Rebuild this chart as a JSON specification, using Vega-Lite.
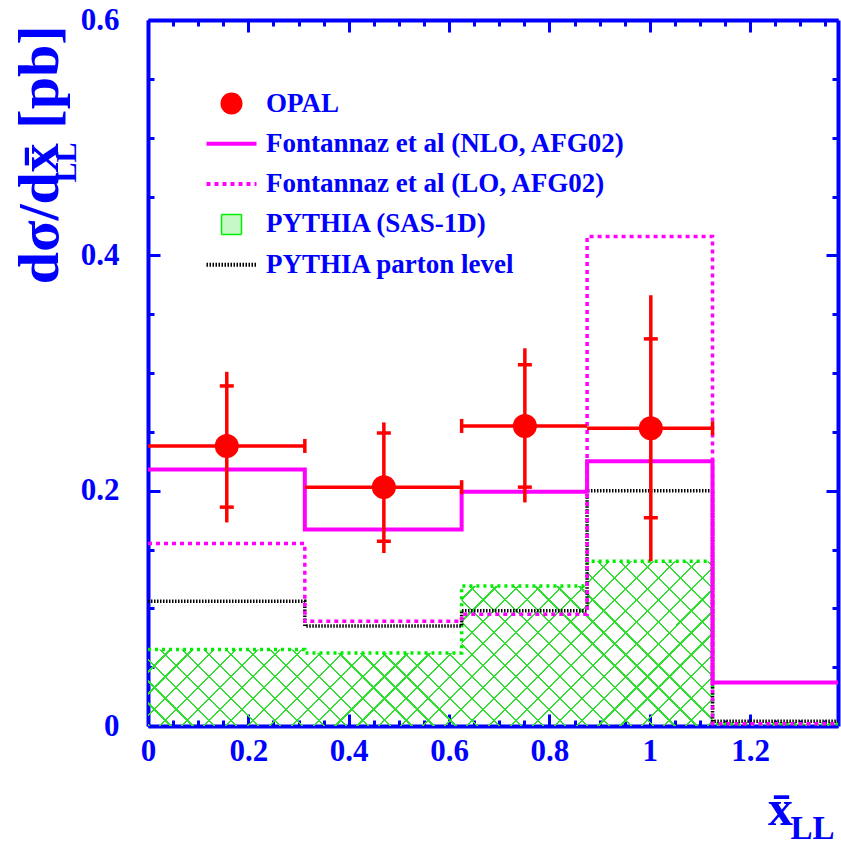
{
  "$schema": "https://vega.github.io/schema/vega-lite/v6.json",
  "width": 690,
  "height": 706,
  "autosize": {"type": "none"},
  "padding": {"left": 148, "top": 20, "right": 3, "bottom": 121},
  "background": "white",
  "config": {"view": {"stroke": null}},
  "datasets": {
    "hist": [
      {"series": "Fontannaz et al (NLO, AFG02)", "x": 0, "y": 0.218},
      {"series": "Fontannaz et al (NLO, AFG02)", "x": 0.3125, "y": 0.167},
      {"series": "Fontannaz et al (NLO, AFG02)", "x": 0.625, "y": 0.199},
      {"series": "Fontannaz et al (NLO, AFG02)", "x": 0.875, "y": 0.225},
      {"series": "Fontannaz et al (NLO, AFG02)", "x": 1.125, "y": 0.037},
      {"series": "Fontannaz et al (NLO, AFG02)", "x": 1.375, "y": 0.037},
      {"series": "Fontannaz et al (LO, AFG02)", "x": 0, "y": 0.155},
      {"series": "Fontannaz et al (LO, AFG02)", "x": 0.3125, "y": 0.089},
      {"series": "Fontannaz et al (LO, AFG02)", "x": 0.625, "y": 0.095},
      {"series": "Fontannaz et al (LO, AFG02)", "x": 0.875, "y": 0.416},
      {"series": "Fontannaz et al (LO, AFG02)", "x": 1.125, "y": 0.002},
      {"series": "Fontannaz et al (LO, AFG02)", "x": 1.375, "y": 0.002},
      {"series": "PYTHIA (SAS-1D)", "x": 0, "y": 0.065},
      {"series": "PYTHIA (SAS-1D)", "x": 0.3125, "y": 0.062},
      {"series": "PYTHIA (SAS-1D)", "x": 0.625, "y": 0.119},
      {"series": "PYTHIA (SAS-1D)", "x": 0.875, "y": 0.14},
      {"series": "PYTHIA (SAS-1D)", "x": 1.125, "y": 0.002},
      {"series": "PYTHIA (SAS-1D)", "x": 1.375, "y": 0.002},
      {"series": "PYTHIA parton level", "x": 0, "y": 0.106},
      {"series": "PYTHIA parton level", "x": 0.3125, "y": 0.085},
      {"series": "PYTHIA parton level", "x": 0.625, "y": 0.098},
      {"series": "PYTHIA parton level", "x": 0.875, "y": 0.2},
      {"series": "PYTHIA parton level", "x": 1.125, "y": 0.004},
      {"series": "PYTHIA parton level", "x": 1.375, "y": 0.004}
    ],
    "opal": [
      {"series": "OPAL", "x": 0.157, "y": 0.238, "xlo": 0, "xhi": 0.3125, "capx": 0.3125, "in_lo": 0.186, "in_hi": 0.289, "out_lo": 0.173, "out_hi": 0.301},
      {"series": "OPAL", "x": 0.47, "y": 0.203, "xlo": 0.3125, "xhi": 0.625, "capx": 0.625, "in_lo": 0.157, "in_hi": 0.249, "out_lo": 0.147, "out_hi": 0.258},
      {"series": "OPAL", "x": 0.751, "y": 0.255, "xlo": 0.625, "xhi": 0.875, "capx": 0.625, "in_lo": 0.203, "in_hi": 0.307, "out_lo": 0.19, "out_hi": 0.321},
      {"series": "OPAL", "x": 1.002, "y": 0.253, "xlo": 0.875, "xhi": 1.125, "capx": 1.125, "in_lo": 0.177, "in_hi": 0.329, "out_lo": 0.14, "out_hi": 0.366}
    ]
  },
  "layer": [
    {
      "data": {"name": "hist"},
      "transform": [{"filter": "datum.series === 'PYTHIA (SAS-1D)'"}],
      "mark": {"type": "area", "interpolate": "step-after", "clip": true,
        "fill": {"gradient": "linear", "x1": 0, "y1": 1, "x2": 1.17193, "y2": 0.72026, "stops": [
          {"offset": 0, "color": "transparent"}, {"offset": 0, "color": "#33dd33"}, {"offset": 0.0026, "color": "#33dd33"}, {"offset": 0.0026, "color": "transparent"},
          {"offset": 0.02564, "color": "transparent"}, {"offset": 0.02564, "color": "#33dd33"}, {"offset": 0.02824, "color": "#33dd33"}, {"offset": 0.02824, "color": "transparent"},
          {"offset": 0.05128, "color": "transparent"}, {"offset": 0.05128, "color": "#33dd33"}, {"offset": 0.05388, "color": "#33dd33"}, {"offset": 0.05388, "color": "transparent"},
          {"offset": 0.07692, "color": "transparent"}, {"offset": 0.07692, "color": "#33dd33"}, {"offset": 0.07952, "color": "#33dd33"}, {"offset": 0.07952, "color": "transparent"},
          {"offset": 0.10256, "color": "transparent"}, {"offset": 0.10256, "color": "#33dd33"}, {"offset": 0.10516, "color": "#33dd33"}, {"offset": 0.10516, "color": "transparent"},
          {"offset": 0.12821, "color": "transparent"}, {"offset": 0.12821, "color": "#33dd33"}, {"offset": 0.13081, "color": "#33dd33"}, {"offset": 0.13081, "color": "transparent"},
          {"offset": 0.15385, "color": "transparent"}, {"offset": 0.15385, "color": "#33dd33"}, {"offset": 0.15645, "color": "#33dd33"}, {"offset": 0.15645, "color": "transparent"},
          {"offset": 0.17949, "color": "transparent"}, {"offset": 0.17949, "color": "#33dd33"}, {"offset": 0.18209, "color": "#33dd33"}, {"offset": 0.18209, "color": "transparent"},
          {"offset": 0.20513, "color": "transparent"}, {"offset": 0.20513, "color": "#33dd33"}, {"offset": 0.20773, "color": "#33dd33"}, {"offset": 0.20773, "color": "transparent"},
          {"offset": 0.23077, "color": "transparent"}, {"offset": 0.23077, "color": "#33dd33"}, {"offset": 0.23337, "color": "#33dd33"}, {"offset": 0.23337, "color": "transparent"},
          {"offset": 0.25641, "color": "transparent"}, {"offset": 0.25641, "color": "#33dd33"}, {"offset": 0.25901, "color": "#33dd33"}, {"offset": 0.25901, "color": "transparent"},
          {"offset": 0.28205, "color": "transparent"}, {"offset": 0.28205, "color": "#33dd33"}, {"offset": 0.28465, "color": "#33dd33"}, {"offset": 0.28465, "color": "transparent"},
          {"offset": 0.30769, "color": "transparent"}, {"offset": 0.30769, "color": "#33dd33"}, {"offset": 0.31029, "color": "#33dd33"}, {"offset": 0.31029, "color": "transparent"},
          {"offset": 0.33333, "color": "transparent"}, {"offset": 0.33333, "color": "#33dd33"}, {"offset": 0.33593, "color": "#33dd33"}, {"offset": 0.33593, "color": "transparent"},
          {"offset": 0.35897, "color": "transparent"}, {"offset": 0.35897, "color": "#33dd33"}, {"offset": 0.36157, "color": "#33dd33"}, {"offset": 0.36157, "color": "transparent"},
          {"offset": 0.38462, "color": "transparent"}, {"offset": 0.38462, "color": "#33dd33"}, {"offset": 0.38722, "color": "#33dd33"}, {"offset": 0.38722, "color": "transparent"},
          {"offset": 0.41026, "color": "transparent"}, {"offset": 0.41026, "color": "#33dd33"}, {"offset": 0.41286, "color": "#33dd33"}, {"offset": 0.41286, "color": "transparent"},
          {"offset": 0.4359, "color": "transparent"}, {"offset": 0.4359, "color": "#33dd33"}, {"offset": 0.4385, "color": "#33dd33"}, {"offset": 0.4385, "color": "transparent"},
          {"offset": 0.46154, "color": "transparent"}, {"offset": 0.46154, "color": "#33dd33"}, {"offset": 0.46414, "color": "#33dd33"}, {"offset": 0.46414, "color": "transparent"},
          {"offset": 0.48718, "color": "transparent"}, {"offset": 0.48718, "color": "#33dd33"}, {"offset": 0.48978, "color": "#33dd33"}, {"offset": 0.48978, "color": "transparent"},
          {"offset": 0.51282, "color": "transparent"}, {"offset": 0.51282, "color": "#33dd33"}, {"offset": 0.51542, "color": "#33dd33"}, {"offset": 0.51542, "color": "transparent"},
          {"offset": 0.53846, "color": "transparent"}, {"offset": 0.53846, "color": "#33dd33"}, {"offset": 0.54106, "color": "#33dd33"}, {"offset": 0.54106, "color": "transparent"},
          {"offset": 0.5641, "color": "transparent"}, {"offset": 0.5641, "color": "#33dd33"}, {"offset": 0.5667, "color": "#33dd33"}, {"offset": 0.5667, "color": "transparent"},
          {"offset": 0.58974, "color": "transparent"}, {"offset": 0.58974, "color": "#33dd33"}, {"offset": 0.59234, "color": "#33dd33"}, {"offset": 0.59234, "color": "transparent"},
          {"offset": 0.61538, "color": "transparent"}, {"offset": 0.61538, "color": "#33dd33"}, {"offset": 0.61798, "color": "#33dd33"}, {"offset": 0.61798, "color": "transparent"},
          {"offset": 0.64103, "color": "transparent"}, {"offset": 0.64103, "color": "#33dd33"}, {"offset": 0.64363, "color": "#33dd33"}, {"offset": 0.64363, "color": "transparent"},
          {"offset": 0.66667, "color": "transparent"}, {"offset": 0.66667, "color": "#33dd33"}, {"offset": 0.66927, "color": "#33dd33"}, {"offset": 0.66927, "color": "transparent"},
          {"offset": 0.69231, "color": "transparent"}, {"offset": 0.69231, "color": "#33dd33"}, {"offset": 0.69491, "color": "#33dd33"}, {"offset": 0.69491, "color": "transparent"},
          {"offset": 0.71795, "color": "transparent"}, {"offset": 0.71795, "color": "#33dd33"}, {"offset": 0.72055, "color": "#33dd33"}, {"offset": 0.72055, "color": "transparent"},
          {"offset": 0.74359, "color": "transparent"}, {"offset": 0.74359, "color": "#33dd33"}, {"offset": 0.74619, "color": "#33dd33"}, {"offset": 0.74619, "color": "transparent"},
          {"offset": 0.76923, "color": "transparent"}, {"offset": 0.76923, "color": "#33dd33"}, {"offset": 0.77183, "color": "#33dd33"}, {"offset": 0.77183, "color": "transparent"},
          {"offset": 0.79487, "color": "transparent"}, {"offset": 0.79487, "color": "#33dd33"}, {"offset": 0.79747, "color": "#33dd33"}, {"offset": 0.79747, "color": "transparent"},
          {"offset": 0.82051, "color": "transparent"}, {"offset": 0.82051, "color": "#33dd33"}, {"offset": 0.82311, "color": "#33dd33"}, {"offset": 0.82311, "color": "transparent"},
          {"offset": 0.84615, "color": "transparent"}, {"offset": 0.84615, "color": "#33dd33"}, {"offset": 0.84875, "color": "#33dd33"}, {"offset": 0.84875, "color": "transparent"},
          {"offset": 0.87179, "color": "transparent"}, {"offset": 0.87179, "color": "#33dd33"}, {"offset": 0.87439, "color": "#33dd33"}, {"offset": 0.87439, "color": "transparent"},
          {"offset": 0.89744, "color": "transparent"}, {"offset": 0.89744, "color": "#33dd33"}, {"offset": 0.90004, "color": "#33dd33"}, {"offset": 0.90004, "color": "transparent"},
          {"offset": 0.92308, "color": "transparent"}, {"offset": 0.92308, "color": "#33dd33"}, {"offset": 0.92568, "color": "#33dd33"}, {"offset": 0.92568, "color": "transparent"},
          {"offset": 0.94872, "color": "transparent"}, {"offset": 0.94872, "color": "#33dd33"}, {"offset": 0.95132, "color": "#33dd33"}, {"offset": 0.95132, "color": "transparent"},
          {"offset": 0.97436, "color": "transparent"}, {"offset": 0.97436, "color": "#33dd33"}, {"offset": 0.97696, "color": "#33dd33"}, {"offset": 0.97696, "color": "transparent"},
          {"offset": 1, "color": "transparent"}
        ]}
      },
      "encoding": {
        "x": {"field": "x", "type": "quantitative", "scale": {"domain": [0, 1.375], "nice": false, "zero": false},
          "axis": {"orient": "bottom", "grid": false,
            "values": [0, 0.05, 0.1, 0.15, 0.2, 0.25, 0.3, 0.35, 0.4, 0.45, 0.5, 0.55, 0.6, 0.65, 0.7, 0.75, 0.8, 0.85, 0.9, 0.95, 1, 1.05, 1.1, 1.15, 1.2, 1.25, 1.3, 1.35],
            "domainColor": "#0000ff", "domainWidth": 4, "tickColor": "#0000ff", "tickWidth": 3,
            "tickSize": {"condition": {"test": "abs(datum.value*5 - round(datum.value*5)) < 0.001", "value": -12}, "value": -6},
            "labelExpr": "abs(datum.value*5 - round(datum.value*5)) < 0.001 ? format(datum.value, '.1~f') : ''",
            "labelFont": "Liberation Serif", "labelFontWeight": "bold", "labelFontSize": 31, "labelColor": "#0000ff",
            "labelPadding": 22, "labelFlush": false, "labelOverlap": false,
            "title": "x̄", "titleFont": "Liberation Serif", "titleFontWeight": "bold", "titleFontSize": 50, "titleColor": "#0000ff",
            "titleX": 632, "titleY": 98, "titleAlign": "center", "titleBaseline": "alphabetic", "titleAngle": 0}},
        "y": {"field": "y", "type": "quantitative", "scale": {"domain": [0, 0.6], "nice": false},
          "axis": {"orient": "left", "grid": false,
            "values": [0, 0.05, 0.1, 0.15, 0.2, 0.25, 0.3, 0.35, 0.4, 0.45, 0.5, 0.55, 0.6],
            "domainColor": "#0000ff", "domainWidth": 4, "tickColor": "#0000ff", "tickWidth": 3,
            "tickSize": {"condition": {"test": "abs(datum.value*5 - round(datum.value*5)) < 0.001", "value": -12}, "value": -6},
            "labelExpr": "abs(datum.value*5 - round(datum.value*5)) < 0.001 ? format(datum.value, '.1~f') : ''",
            "labelFont": "Liberation Serif", "labelFontWeight": "bold", "labelFontSize": 31, "labelColor": "#0000ff",
            "labelPadding": 41, "labelFlush": false, "labelOverlap": false,
            "title": "dσ/dx̄ [pb]", "titleFont": "Liberation Serif", "titleFontWeight": "bold", "titleFontSize": 58, "titleColor": "#0000ff",
            "titleX": -108, "titleY": 5, "titleAlign": "right", "titleBaseline": "middle", "titleAngle": 270}}
      }
    },
    {
      "data": {"name": "hist"},
      "transform": [{"filter": "datum.series === 'PYTHIA (SAS-1D)'"}],
      "mark": {"type": "area", "interpolate": "step-after", "clip": true,
        "fill": {"gradient": "linear", "x1": 0, "y1": 0, "x2": 1.17193, "y2": 0.27974, "stops": [
          {"offset": 0, "color": "transparent"}, {"offset": 0, "color": "#33dd33"}, {"offset": 0.0026, "color": "#33dd33"}, {"offset": 0.0026, "color": "transparent"},
          {"offset": 0.02564, "color": "transparent"}, {"offset": 0.02564, "color": "#33dd33"}, {"offset": 0.02824, "color": "#33dd33"}, {"offset": 0.02824, "color": "transparent"},
          {"offset": 0.05128, "color": "transparent"}, {"offset": 0.05128, "color": "#33dd33"}, {"offset": 0.05388, "color": "#33dd33"}, {"offset": 0.05388, "color": "transparent"},
          {"offset": 0.07692, "color": "transparent"}, {"offset": 0.07692, "color": "#33dd33"}, {"offset": 0.07952, "color": "#33dd33"}, {"offset": 0.07952, "color": "transparent"},
          {"offset": 0.10256, "color": "transparent"}, {"offset": 0.10256, "color": "#33dd33"}, {"offset": 0.10516, "color": "#33dd33"}, {"offset": 0.10516, "color": "transparent"},
          {"offset": 0.12821, "color": "transparent"}, {"offset": 0.12821, "color": "#33dd33"}, {"offset": 0.13081, "color": "#33dd33"}, {"offset": 0.13081, "color": "transparent"},
          {"offset": 0.15385, "color": "transparent"}, {"offset": 0.15385, "color": "#33dd33"}, {"offset": 0.15645, "color": "#33dd33"}, {"offset": 0.15645, "color": "transparent"},
          {"offset": 0.17949, "color": "transparent"}, {"offset": 0.17949, "color": "#33dd33"}, {"offset": 0.18209, "color": "#33dd33"}, {"offset": 0.18209, "color": "transparent"},
          {"offset": 0.20513, "color": "transparent"}, {"offset": 0.20513, "color": "#33dd33"}, {"offset": 0.20773, "color": "#33dd33"}, {"offset": 0.20773, "color": "transparent"},
          {"offset": 0.23077, "color": "transparent"}, {"offset": 0.23077, "color": "#33dd33"}, {"offset": 0.23337, "color": "#33dd33"}, {"offset": 0.23337, "color": "transparent"},
          {"offset": 0.25641, "color": "transparent"}, {"offset": 0.25641, "color": "#33dd33"}, {"offset": 0.25901, "color": "#33dd33"}, {"offset": 0.25901, "color": "transparent"},
          {"offset": 0.28205, "color": "transparent"}, {"offset": 0.28205, "color": "#33dd33"}, {"offset": 0.28465, "color": "#33dd33"}, {"offset": 0.28465, "color": "transparent"},
          {"offset": 0.30769, "color": "transparent"}, {"offset": 0.30769, "color": "#33dd33"}, {"offset": 0.31029, "color": "#33dd33"}, {"offset": 0.31029, "color": "transparent"},
          {"offset": 0.33333, "color": "transparent"}, {"offset": 0.33333, "color": "#33dd33"}, {"offset": 0.33593, "color": "#33dd33"}, {"offset": 0.33593, "color": "transparent"},
          {"offset": 0.35897, "color": "transparent"}, {"offset": 0.35897, "color": "#33dd33"}, {"offset": 0.36157, "color": "#33dd33"}, {"offset": 0.36157, "color": "transparent"},
          {"offset": 0.38462, "color": "transparent"}, {"offset": 0.38462, "color": "#33dd33"}, {"offset": 0.38722, "color": "#33dd33"}, {"offset": 0.38722, "color": "transparent"},
          {"offset": 0.41026, "color": "transparent"}, {"offset": 0.41026, "color": "#33dd33"}, {"offset": 0.41286, "color": "#33dd33"}, {"offset": 0.41286, "color": "transparent"},
          {"offset": 0.4359, "color": "transparent"}, {"offset": 0.4359, "color": "#33dd33"}, {"offset": 0.4385, "color": "#33dd33"}, {"offset": 0.4385, "color": "transparent"},
          {"offset": 0.46154, "color": "transparent"}, {"offset": 0.46154, "color": "#33dd33"}, {"offset": 0.46414, "color": "#33dd33"}, {"offset": 0.46414, "color": "transparent"},
          {"offset": 0.48718, "color": "transparent"}, {"offset": 0.48718, "color": "#33dd33"}, {"offset": 0.48978, "color": "#33dd33"}, {"offset": 0.48978, "color": "transparent"},
          {"offset": 0.51282, "color": "transparent"}, {"offset": 0.51282, "color": "#33dd33"}, {"offset": 0.51542, "color": "#33dd33"}, {"offset": 0.51542, "color": "transparent"},
          {"offset": 0.53846, "color": "transparent"}, {"offset": 0.53846, "color": "#33dd33"}, {"offset": 0.54106, "color": "#33dd33"}, {"offset": 0.54106, "color": "transparent"},
          {"offset": 0.5641, "color": "transparent"}, {"offset": 0.5641, "color": "#33dd33"}, {"offset": 0.5667, "color": "#33dd33"}, {"offset": 0.5667, "color": "transparent"},
          {"offset": 0.58974, "color": "transparent"}, {"offset": 0.58974, "color": "#33dd33"}, {"offset": 0.59234, "color": "#33dd33"}, {"offset": 0.59234, "color": "transparent"},
          {"offset": 0.61538, "color": "transparent"}, {"offset": 0.61538, "color": "#33dd33"}, {"offset": 0.61798, "color": "#33dd33"}, {"offset": 0.61798, "color": "transparent"},
          {"offset": 0.64103, "color": "transparent"}, {"offset": 0.64103, "color": "#33dd33"}, {"offset": 0.64363, "color": "#33dd33"}, {"offset": 0.64363, "color": "transparent"},
          {"offset": 0.66667, "color": "transparent"}, {"offset": 0.66667, "color": "#33dd33"}, {"offset": 0.66927, "color": "#33dd33"}, {"offset": 0.66927, "color": "transparent"},
          {"offset": 0.69231, "color": "transparent"}, {"offset": 0.69231, "color": "#33dd33"}, {"offset": 0.69491, "color": "#33dd33"}, {"offset": 0.69491, "color": "transparent"},
          {"offset": 0.71795, "color": "transparent"}, {"offset": 0.71795, "color": "#33dd33"}, {"offset": 0.72055, "color": "#33dd33"}, {"offset": 0.72055, "color": "transparent"},
          {"offset": 0.74359, "color": "transparent"}, {"offset": 0.74359, "color": "#33dd33"}, {"offset": 0.74619, "color": "#33dd33"}, {"offset": 0.74619, "color": "transparent"},
          {"offset": 0.76923, "color": "transparent"}, {"offset": 0.76923, "color": "#33dd33"}, {"offset": 0.77183, "color": "#33dd33"}, {"offset": 0.77183, "color": "transparent"},
          {"offset": 0.79487, "color": "transparent"}, {"offset": 0.79487, "color": "#33dd33"}, {"offset": 0.79747, "color": "#33dd33"}, {"offset": 0.79747, "color": "transparent"},
          {"offset": 0.82051, "color": "transparent"}, {"offset": 0.82051, "color": "#33dd33"}, {"offset": 0.82311, "color": "#33dd33"}, {"offset": 0.82311, "color": "transparent"},
          {"offset": 0.84615, "color": "transparent"}, {"offset": 0.84615, "color": "#33dd33"}, {"offset": 0.84875, "color": "#33dd33"}, {"offset": 0.84875, "color": "transparent"},
          {"offset": 0.87179, "color": "transparent"}, {"offset": 0.87179, "color": "#33dd33"}, {"offset": 0.87439, "color": "#33dd33"}, {"offset": 0.87439, "color": "transparent"},
          {"offset": 0.89744, "color": "transparent"}, {"offset": 0.89744, "color": "#33dd33"}, {"offset": 0.90004, "color": "#33dd33"}, {"offset": 0.90004, "color": "transparent"},
          {"offset": 0.92308, "color": "transparent"}, {"offset": 0.92308, "color": "#33dd33"}, {"offset": 0.92568, "color": "#33dd33"}, {"offset": 0.92568, "color": "transparent"},
          {"offset": 0.94872, "color": "transparent"}, {"offset": 0.94872, "color": "#33dd33"}, {"offset": 0.95132, "color": "#33dd33"}, {"offset": 0.95132, "color": "transparent"},
          {"offset": 0.97436, "color": "transparent"}, {"offset": 0.97436, "color": "#33dd33"}, {"offset": 0.97696, "color": "#33dd33"}, {"offset": 0.97696, "color": "transparent"},
          {"offset": 1, "color": "transparent"}
        ]}
      },
      "encoding": {
        "x": {"field": "x", "type": "quantitative", "scale": {"domain": [0, 1.375], "nice": false, "zero": false},
          "axis": {"orient": "top", "grid": false, "labels": false,
            "values": [0, 0.05, 0.1, 0.15, 0.2, 0.25, 0.3, 0.35, 0.4, 0.45, 0.5, 0.55, 0.6, 0.65, 0.7, 0.75, 0.8, 0.85, 0.9, 0.95, 1, 1.05, 1.1, 1.15, 1.2, 1.25, 1.3, 1.35],
            "domainColor": "#0000ff", "domainWidth": 4, "tickColor": "#0000ff", "tickWidth": 3,
            "tickSize": {"condition": {"test": "abs(datum.value*5 - round(datum.value*5)) < 0.001", "value": -12}, "value": -6},
            "title": "LL", "titleFont": "Liberation Serif", "titleFontWeight": "bold", "titleFontSize": 33, "titleColor": "#0000ff",
            "titleX": 664, "titleY": 818, "titleAlign": "center", "titleBaseline": "alphabetic", "titleAngle": 0}},
        "y": {"field": "y", "type": "quantitative", "scale": {"domain": [0, 0.6], "nice": false},
          "axis": {"orient": "right", "grid": false, "labels": false,
            "values": [0, 0.05, 0.1, 0.15, 0.2, 0.25, 0.3, 0.35, 0.4, 0.45, 0.5, 0.55, 0.6],
            "domainColor": "#0000ff", "domainWidth": 4, "tickColor": "#0000ff", "tickWidth": 3,
            "tickSize": {"condition": {"test": "abs(datum.value*5 - round(datum.value*5)) < 0.001", "value": -12}, "value": -6},
            "title": "LL", "titleFont": "Liberation Serif", "titleFontWeight": "bold", "titleFontSize": 30, "titleColor": "#0000ff",
            "titleX": -772, "titleY": 142, "titleAlign": "center", "titleBaseline": "middle", "titleAngle": 270}}
      }
    },
    {
      "data": {"name": "hist"},
      "transform": [{"filter": "datum.series === 'PYTHIA (SAS-1D)'"}],
      "mark": {"type": "line", "interpolate": "step-after", "stroke": "#00ee00", "strokeWidth": 3.5, "strokeDash": [3, 4], "clip": true},
      "encoding": {
        "x": {"field": "x", "type": "quantitative", "scale": {"domain": [0, 1.375], "nice": false, "zero": false}, "axis": null},
        "y": {"field": "y", "type": "quantitative", "scale": {"domain": [0, 0.6], "nice": false}, "axis": null}
      }
    },
    {
      "data": {"name": "hist"},
      "transform": [{"filter": "datum.series === 'PYTHIA parton level'"}],
      "mark": {"type": "line", "interpolate": "step-after", "stroke": "#000000", "strokeWidth": 3.5, "strokeDash": [1.5, 1.5], "clip": true},
      "encoding": {
        "x": {"field": "x", "type": "quantitative", "scale": {"domain": [0, 1.375], "nice": false, "zero": false}, "axis": null},
        "y": {"field": "y", "type": "quantitative", "scale": {"domain": [0, 0.6], "nice": false}, "axis": null}
      }
    },
    {
      "data": {"name": "hist"},
      "transform": [{"filter": "datum.series === 'Fontannaz et al (LO, AFG02)'"}],
      "mark": {"type": "line", "interpolate": "step-after", "stroke": "#ff00ff", "strokeWidth": 3.5, "strokeDash": [4, 4], "clip": true},
      "encoding": {
        "x": {"field": "x", "type": "quantitative", "scale": {"domain": [0, 1.375], "nice": false, "zero": false}, "axis": null},
        "y": {"field": "y", "type": "quantitative", "scale": {"domain": [0, 0.6], "nice": false}, "axis": null}
      }
    },
    {
      "data": {"name": "hist"},
      "transform": [{"filter": "datum.series === 'Fontannaz et al (NLO, AFG02)'"}],
      "mark": {"type": "line", "interpolate": "step-after", "strokeWidth": 4, "clip": true},
      "encoding": {
        "x": {"field": "x", "type": "quantitative", "scale": {"domain": [0, 1.375], "nice": false, "zero": false}, "axis": null},
        "y": {"field": "y", "type": "quantitative", "scale": {"domain": [0, 0.6], "nice": false}, "axis": null},
        "color": {"field": "series", "type": "nominal",
          "scale": {"domain": ["OPAL", "Fontannaz et al (NLO, AFG02)", "Fontannaz et al (LO, AFG02)", "PYTHIA (SAS-1D)", "PYTHIA parton level"],
                    "range": ["#ff0000", "#ff00ff", "#ff00ff", "#00ee00", "#000000"]},
          "legend": {"orient": "none", "legendX": 70, "legendY": 70, "title": null, "padding": 0,
            "symbolSize": 400, "labelFont": "Liberation Serif", "labelFontWeight": "bold", "labelFontSize": 27, "labelColor": "#0000ff",
            "labelOffset": 21, "labelLimit": 600, "rowPadding": 12.3,
            "encode": {"symbols": {"update": {
              "shape": {"signal": "datum.value === 'OPAL' ? 'circle' : datum.value === 'PYTHIA (SAS-1D)' ? 'M-1,-1H1V1H-1Z' : 'M-2.5,0H2.5'"},
              "size": {"signal": "datum.value === 'OPAL' ? 484 : 400"},
              "fill": {"signal": "datum.value === 'OPAL' ? '#ff0000' : datum.value === 'PYTHIA (SAS-1D)' ? '#c6f7c6' : 'transparent'"},
              "stroke": {"signal": "datum.value === 'OPAL' ? '#ff0000' : (datum.value === 'PYTHIA (SAS-1D)' || datum.value === 'PYTHIA parton level') ? '#000000' : '#ff00ff'"},
              "strokeWidth": {"signal": "datum.value === 'OPAL' ? 0 : datum.value === 'PYTHIA (SAS-1D)' ? 1.5 : 4"},
              "strokeDash": {"signal": "datum.value === 'Fontannaz et al (LO, AFG02)' ? [4, 4] : datum.value === 'PYTHIA parton level' ? [1.5, 1.5] : [1, 0]"},
              "opacity": {"value": 1}
            }}}}
        }
      }
    },
    {
      "data": {"name": "opal"},
      "mark": {"type": "rule", "color": "#ff0000", "strokeWidth": 3.5},
      "encoding": {
        "x": {"field": "x", "type": "quantitative", "scale": {"domain": [0, 1.375], "nice": false, "zero": false}, "axis": null},
        "y": {"field": "out_lo", "type": "quantitative", "scale": {"domain": [0, 0.6], "nice": false}, "axis": null},
        "y2": {"field": "out_hi"}
      }
    },
    {
      "data": {"name": "opal"},
      "mark": {"type": "rule", "color": "#ff0000", "strokeWidth": 3.5},
      "encoding": {
        "x": {"field": "xlo", "type": "quantitative", "scale": {"domain": [0, 1.375], "nice": false, "zero": false}, "axis": null},
        "x2": {"field": "xhi"},
        "y": {"field": "y", "type": "quantitative", "scale": {"domain": [0, 0.6], "nice": false}, "axis": null}
      }
    },
    {
      "data": {"name": "opal"},
      "mark": {"type": "tick", "orient": "horizontal", "color": "#ff0000", "size": 14, "thickness": 3.5, "opacity": 1},
      "encoding": {
        "x": {"field": "x", "type": "quantitative", "scale": {"domain": [0, 1.375], "nice": false, "zero": false}, "axis": null},
        "y": {"field": "in_lo", "type": "quantitative", "scale": {"domain": [0, 0.6], "nice": false}, "axis": null}
      }
    },
    {
      "data": {"name": "opal"},
      "mark": {"type": "tick", "orient": "horizontal", "color": "#ff0000", "size": 14, "thickness": 3.5, "opacity": 1},
      "encoding": {
        "x": {"field": "x", "type": "quantitative", "scale": {"domain": [0, 1.375], "nice": false, "zero": false}, "axis": null},
        "y": {"field": "in_hi", "type": "quantitative", "scale": {"domain": [0, 0.6], "nice": false}, "axis": null}
      }
    },
    {
      "data": {"name": "opal"},
      "mark": {"type": "tick", "orient": "vertical", "color": "#ff0000", "size": 14, "thickness": 3.5, "opacity": 1},
      "encoding": {
        "x": {"field": "capx", "type": "quantitative", "scale": {"domain": [0, 1.375], "nice": false, "zero": false}, "axis": null},
        "y": {"field": "y", "type": "quantitative", "scale": {"domain": [0, 0.6], "nice": false}, "axis": null}
      }
    },
    {
      "data": {"name": "opal"},
      "mark": {"type": "point", "shape": "circle", "filled": true, "color": "#ff0000", "size": 576, "opacity": 1},
      "encoding": {
        "x": {"field": "x", "type": "quantitative", "scale": {"domain": [0, 1.375], "nice": false, "zero": false}, "axis": null},
        "y": {"field": "y", "type": "quantitative", "scale": {"domain": [0, 0.6], "nice": false}, "axis": null}
      }
    }
  ],
  "resolve": {"axis": {"x": "independent", "y": "independent"}}
}
